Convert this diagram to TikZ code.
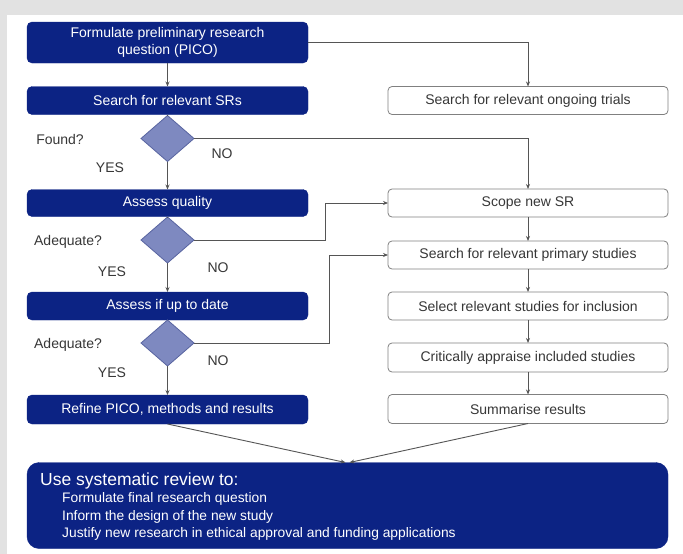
\documentclass[tikz,border=0pt]{standalone}
\usepackage{fontspec}
\setmainfont{Liberation Sans}
\usetikzlibrary{shapes.geometric,arrows.meta}
\definecolor{navy}{RGB}{12,35,132}
\definecolor{lavender}{RGB}{126,137,192}
\definecolor{lavedge}{RGB}{88,100,160}
\definecolor{frame}{RGB}{226,226,226}
\definecolor{wire}{RGB}{85,85,85}
\definecolor{inktext}{RGB}{55,55,55}
\tikzset{
  darkbox/.style={draw=navy, fill=navy, rounded corners=5pt, text=white,
    minimum width=281pt, minimum height=28pt, inner sep=0pt, outer sep=0pt,
    font=\fontsize{14}{17}\selectfont, align=center},
  lightbox/.style={draw=black!50, line width=0.8pt, fill=white, rounded corners=4pt, text=inktext,
    minimum width=280pt, minimum height=28pt, inner sep=0pt, outer sep=0pt,
    font=\fontsize{14}{17}\selectfont},
  decide/.style={diamond, draw=lavedge, fill=lavender, line width=0.8pt,
    minimum width=53pt, minimum height=46pt, inner sep=0pt, outer sep=0pt},
  tag/.style={text=inktext, font=\fontsize{14}{17}\selectfont, inner sep=0pt},
  wireline/.style={draw=wire, line width=0.9pt},
  flow/.style={wireline, -{Stealth[length=5pt,width=4pt]}}
}
\begin{document}
\begin{tikzpicture}[x=1pt,y=-1pt]
  % page frame
  \fill[frame] (0,0) rectangle (683,554);
  \fill[white] (7,15) rectangle (683,554);
  \useasboundingbox (0,0) rectangle (683,554);

  % left column
  \node[darkbox, minimum height=41pt] (form) at (167.5,42.5)
    {Formulate preliminary research\\question (PICO)};
  \node[darkbox] (srs) at (167.5,100.5) {Search for relevant SRs};
  \node[decide] (d1) at (167.5,138.5) {};
  \node[darkbox, minimum height=27pt] (quality) at (167.5,203) {Assess quality};
  \node[decide] (d2) at (167.5,240) {};
  \node[darkbox] (uptodate) at (167.5,306) {Assess if up to date};
  \node[decide] (d3) at (167.5,343) {};
  \node[darkbox, minimum height=29pt] (refine) at (167.5,409.5) {Refine PICO, methods and results};

  % right column
  \node[lightbox] (trials) at (528,100.5) {Search for relevant ongoing trials};
  \node[lightbox] (scope) at (528,203) {Scope new SR};
  \node[lightbox] (primary) at (528,255) {Search for relevant primary studies};
  \node[lightbox] (select) at (528,306) {Select relevant studies for inclusion};
  \node[lightbox, minimum height=29pt] (crit) at (528,357.5) {Critically appraise included studies};
  \node[lightbox, minimum height=29pt] (summ) at (528,409) {Summarise results};

  % outcome box
  \node[draw=navy, fill=navy, rounded corners=12pt, minimum width=641pt, minimum height=86pt,
        inner sep=0pt, outer sep=0pt] (use) at (347.5,505.5) {};
  \node[anchor=west, text=white, inner sep=0pt, font=\fontsize{17.5}{20}\selectfont]
    (usehead) at (40,481) {Use systematic review to:};
  \node[anchor=west, text=white, inner sep=0pt, font=\fontsize{13.8}{16}\selectfont]
    (use1) at (62,499) {Formulate final research question};
  \node[anchor=west, text=white, inner sep=0pt, font=\fontsize{13.8}{16}\selectfont]
    (use2) at (62,516.5) {Inform the design of the new study};
  \node[anchor=west, text=white, inner sep=0pt, font=\fontsize{13.8}{16}\selectfont]
    (use3) at (62,534) {Justify new research in ethical approval and funding applications};

  % decision labels
  \node[tag] (found) at (60,139) {Found?};
  \node[tag] (yes1) at (110,168) {YES};
  \node[tag] (no1) at (222,154) {NO};
  \node[tag] (adeq1) at (68,242) {Adequate?};
  \node[tag] (yes2) at (112,272) {YES};
  \node[tag] (no2) at (218,268) {NO};
  \node[tag] (adeq2) at (68,345) {Adequate?};
  \node[tag] (yes3) at (112,373) {YES};
  \node[tag] (no3) at (218,361) {NO};

  % connectors, left column
  \draw[flow] (form) -- (srs);
  \draw[wireline] (srs) -- (d1);
  \draw[flow] (d1) -- (quality);
  \draw[wireline] (quality) -- (d2);
  \draw[flow] (d2) -- (uptodate);
  \draw[wireline] (uptodate) -- (d3);
  \draw[flow] (d3) -- (refine);

  % connectors to the right column
  \draw[flow] (form.east) -| (trials.north);
  \draw[flow] (d1.east) -| (scope.north);
  \draw[flow] (d2.east) -- (325,240) |- (scope.west);
  \draw[flow] (d3.east) -- (329,343) |- (primary.west);
  \draw[flow] (scope) -- (primary);
  \draw[flow] (primary) -- (select);
  \draw[flow] (select) -- (crit);
  \draw[flow] (crit) -- (summ);

  % both branches feed the outcome box
  \draw[flow] (refine.south) -- ([xshift=-2pt]use.north);
  \draw[flow] (summ.south) -- ([xshift=2pt]use.north);
\end{tikzpicture}
\end{document}
